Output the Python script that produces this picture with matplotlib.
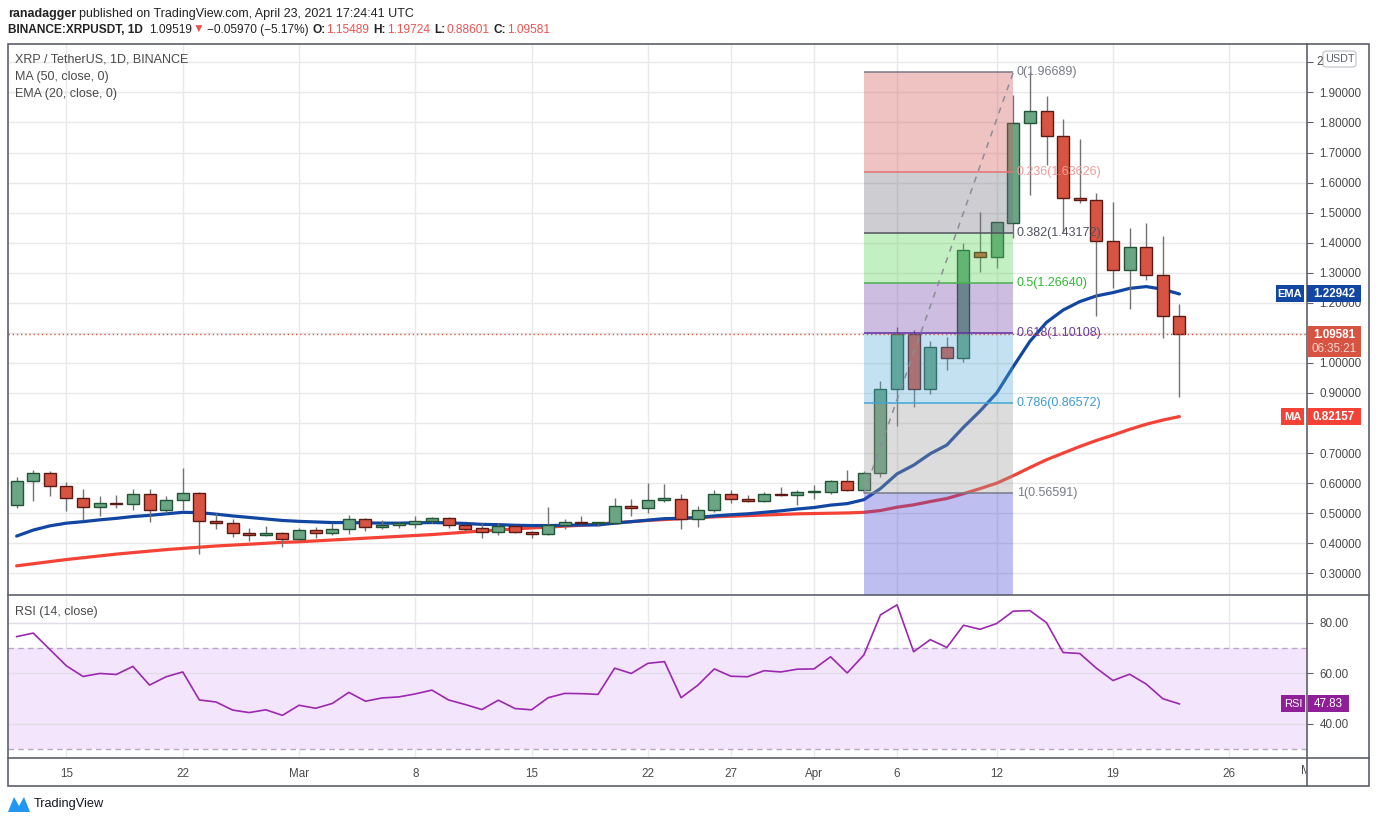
import matplotlib
matplotlib.use("Agg")
import matplotlib.pyplot as plt
from matplotlib.patches import Rectangle, FancyBboxPatch, Polygon
from matplotlib.lines import Line2D
from matplotlib.transforms import Bbox
import numpy as np

plt.rcParams['font.family'] = ['Liberation Sans', 'DejaVu Sans']

# ---------------- data ----------------
opens = [0.527, 0.607, 0.633, 0.590, 0.550, 0.520, 0.535, 0.530, 0.563, 0.510, 0.543, 0.567, 0.473, 0.467, 0.433, 0.427, 0.433,
         0.413, 0.443, 0.433, 0.447, 0.480, 0.453, 0.460, 0.463, 0.473, 0.483, 0.460, 0.450, 0.437, 0.457, 0.438, 0.432, 0.460, 0.471,
         0.467, 0.468, 0.523, 0.517, 0.543, 0.547, 0.480, 0.510, 0.563, 0.547, 0.542, 0.564, 0.560,
         0.569, 0.570, 0.607, 0.577, 0.633, 0.914, 1.096, 0.914, 1.054, 1.015, 1.370, 1.351, 1.467, 1.797, 1.838, 1.756, 1.548,
         1.541, 1.407, 1.308, 1.385, 1.291, 1.15489]
highs = [0.620, 0.644, 0.641, 0.603, 0.581, 0.558, 0.561, 0.581, 0.580, 0.558, 0.651, 0.570, 0.502, 0.480, 0.450, 0.458, 0.439,
         0.450, 0.454, 0.469, 0.494, 0.484, 0.477, 0.471, 0.491, 0.488, 0.488, 0.464, 0.466, 0.466, 0.460, 0.442, 0.521, 0.481, 0.491,
         0.472, 0.550, 0.547, 0.600, 0.598, 0.564, 0.523, 0.577, 0.577, 0.560, 0.570, 0.587, 0.577,
         0.594, 0.610, 0.643, 0.642, 0.940, 1.121, 1.110, 1.073, 1.087, 1.398, 1.503, 1.470, 1.891, 1.967, 1.888, 1.812, 1.745,
         1.565, 1.535, 1.448, 1.466, 1.422, 1.19724]
lows = [0.516, 0.542, 0.559, 0.506, 0.478, 0.492, 0.516, 0.511, 0.470, 0.500, 0.511, 0.363, 0.449, 0.422, 0.409, 0.424, 0.389,
        0.406, 0.419, 0.429, 0.432, 0.442, 0.446, 0.452, 0.452, 0.469, 0.452, 0.439, 0.419, 0.429, 0.433, 0.419, 0.426, 0.449, 0.464,
        0.457, 0.464, 0.492, 0.500, 0.537, 0.449, 0.453, 0.503, 0.533, 0.537, 0.537, 0.556, 0.527,
        0.546, 0.563, 0.573, 0.566, 0.620, 0.791, 0.855, 0.897, 0.977, 1.004, 1.304, 1.315, 1.417, 1.559, 1.660, 1.437, 1.531,
        1.156, 1.248, 1.178, 1.276, 1.084, 0.88601]
closes = [0.607, 0.633, 0.590, 0.550, 0.520, 0.533, 0.531, 0.563, 0.510, 0.543, 0.567, 0.473, 0.467, 0.434, 0.427, 0.433, 0.413,
          0.443, 0.433, 0.447, 0.480, 0.453, 0.460, 0.466, 0.473, 0.483, 0.460, 0.449, 0.437, 0.457, 0.437, 0.432, 0.460, 0.470, 0.467,
          0.469, 0.523, 0.517, 0.543, 0.550, 0.480, 0.510, 0.563, 0.547, 0.542, 0.563, 0.560, 0.570,
          0.570, 0.607, 0.577, 0.633, 0.914, 1.096, 0.914, 1.054, 1.015, 1.375, 1.351, 1.468, 1.797, 1.838, 1.756, 1.548, 1.541,
          1.407, 1.308, 1.385, 1.291, 1.155, 1.09581]
ema20 = [0.424, 0.444, 0.458, 0.467, 0.472, 0.478, 0.483, 0.489, 0.493, 0.498, 0.503, 0.502, 0.497, 0.491, 0.486, 0.481, 0.476,
         0.473, 0.471, 0.469, 0.469, 0.468, 0.467, 0.467, 0.468, 0.469, 0.468, 0.466, 0.463, 0.462, 0.460, 0.459, 0.459, 0.460, 0.461,
         0.461, 0.467, 0.472, 0.477, 0.482, 0.483, 0.486, 0.491, 0.495, 0.498, 0.503, 0.508, 0.514,
         0.519, 0.527, 0.532, 0.545, 0.582, 0.631, 0.660, 0.698, 0.727, 0.786, 0.840, 0.900, 0.988, 1.072, 1.135, 1.176, 1.204,
         1.223, 1.234, 1.248, 1.254, 1.245, 1.22942]
ma50 = [0.325, 0.332, 0.339, 0.346, 0.352, 0.358, 0.364, 0.369, 0.374, 0.379, 0.383, 0.387, 0.391, 0.394, 0.397, 0.400, 0.403,
        0.405, 0.408, 0.411, 0.414, 0.417, 0.420, 0.423, 0.426, 0.429, 0.433, 0.437, 0.441, 0.444, 0.448, 0.451, 0.454, 0.457, 0.460,
        0.464, 0.468, 0.472, 0.476, 0.479, 0.482, 0.485, 0.488, 0.490, 0.492, 0.494, 0.496, 0.498,
        0.499, 0.500, 0.501, 0.503, 0.509, 0.520, 0.528, 0.539, 0.549, 0.565, 0.582, 0.600, 0.625, 0.652, 0.678, 0.700, 0.722,
        0.742, 0.760, 0.779, 0.796, 0.810, 0.82157]
rsi = [74.5, 75.9, 69.4, 62.9, 58.7, 59.9, 59.5, 62.7, 55.3, 58.6, 60.5, 49.4, 48.6, 45.4, 44.4, 45.5, 43.3,
       47.3, 46.1, 48.0, 52.4, 48.9, 50.2, 50.6, 51.8, 53.3, 49.4, 47.6, 45.6, 49.3, 46.0, 45.5, 50.3, 52.0, 51.9,
       51.6, 62.0, 59.9, 63.9, 64.6, 50.3, 55.2, 61.7, 58.8, 58.6, 61.0, 60.5, 61.6,
       61.7, 66.5, 60.1, 67.2, 83.1, 87.1, 68.5, 73.3, 70.2, 79.0, 77.4, 79.7, 84.6, 84.8, 80.0, 68.2, 67.8,
       62.0, 57.1, 59.6, 55.7, 49.9, 47.83]

tick_idx = [3, 10, 17, 24, 31, 38, 43, 48, 53, 59, 66, 73]
tick_labels = ["15", "22", "Mar", "8", "15", "22", "27", "Apr", "6", "12", "19", "26"]
price_ticks = [0.3, 0.4, 0.5, 0.6, 0.7, 0.8, 0.9, 1.0, 1.1, 1.2, 1.3, 1.4, 1.5, 1.6, 1.7, 1.8, 1.9, 2.0]
hidden_price_labels = [0.8, 1.1, 2.0]   # covered by the axis tags in the reference
rsi_ticks = [40, 60, 80]

fib_ratios = ["0", "0.236", "0.382", "0.5", "0.618", "0.786", "1"]
fib_prices = [1.96689, 1.63626, 1.43172, 1.26640, 1.10108, 0.86572, 0.56591]
fib_start, fib_end = 51, 60   # Apr 4 -> Apr 13

last_close = 1.09581
ema_last = 1.22942
ma_last = 0.82157
rsi_last = 47.83

# ---------------- layout ----------------
W, H = 1376, 823
fig = plt.figure(figsize=(W / 100, H / 100), dpi=100)
fig.patch.set_facecolor('white')


def add_ax(x0, y0, x1, y1):
    return fig.add_axes([x0 / W, 1 - y1 / H, (x1 - x0) / W, (y1 - y0) / H])


ax = add_ax(8, 44, 1307, 595)
axr = add_ax(8, 597, 1307, 758)

n = len(closes)
x = np.arange(n)
XL = (-0.52, 77.68)

AXC = '#5d606b'
GRID = '#e9e9ea'
TXT = '#4a4a4a'

for a in (ax, axr):
    a.set_xlim(*XL)
    for s in a.spines.values():
        s.set_visible(False)
    a.set_xticks(tick_idx)
    for t in tick_idx:
        a.axvline(t, color=GRID, lw=1, zorder=0)
    a.yaxis.tick_right()
    a.tick_params(axis='y', length=4, width=0.8, color=AXC, labelsize=8.4, labelcolor=TXT, pad=5)

ax.set_ylim(0.228, 2.061)
ax.set_yticks(price_ticks)
ax.set_yticklabels(["" if p in hidden_price_labels else f"{p:.5f}" for p in price_ticks])
ax.tick_params(axis='x', length=0, labelbottom=False)
for p in price_ticks:
    ax.axhline(p, color=GRID, lw=1, zorder=0)

# indicators
ax.plot(x, ma50, color='#f44336', lw=2.3, zorder=2, solid_capstyle='round')
ax.plot(x, ema20, color='#1147a2', lw=2.3, zorder=2, solid_capstyle='round')

# candles
o = np.array(opens); c = np.array(closes); hi = np.array(highs); lo = np.array(lows)
up = c >= o
ax.vlines(x, lo, hi, color='#737375', lw=1.0, zorder=3)
body_lo = np.minimum(o, c)
body_h = np.maximum(np.abs(c - o), 0.004)
ax.bar(x[up], body_h[up], bottom=body_lo[up], width=0.72, color='#6ba583', edgecolor='#225437', lw=1.0, zorder=4)
ax.bar(x[~up], body_h[~up], bottom=body_lo[~up], width=0.72, color='#d75442', edgecolor='#5b1a13', lw=1.0, zorder=4)

# fib retracement
zone_cols = ['#d45454', '#70707e', '#54d454', '#7045a9', '#54a9d4', '#9b9b9b', '#4545d4']
line_cols = ['#787b86', '#e57373', '#50535e', '#4caf50', '#5e2ca5', '#42a5d5', '#787b86']
lab_cols = ['#787b86', '#f09a9a', '#50535e', '#2eb82e', '#6b3fa0', '#3d9ad1', '#787b86']
levels = fib_prices + [ax.get_ylim()[0]]
for i in range(len(fib_prices)):
    ax.fill_between([fib_start, fib_end], levels[i + 1], levels[i], color=zone_cols[i], alpha=0.35, lw=0, zorder=5)
for i, p in enumerate(fib_prices):
    ax.hlines(p, fib_start, fib_end, color=line_cols[i], lw=1.1, zorder=6)
    ax.text(fib_end + 0.22, p, f"{fib_ratios[i]}({p:.5f})", color=lab_cols[i], fontsize=9,
            va='center', ha='left', zorder=7)
ax.plot([fib_start, fib_end], [fib_prices[-1], fib_prices[0]], color='#8a8d96', lw=1.1,
        linestyle=(0, (4, 4)), zorder=6)

# last price dotted line
ax.axhline(last_close, color='#d75442', lw=1.0, linestyle=(0, (1, 2)), zorder=6)

# legend text in pane
ax.text(7 / 1299, 1 - 16 / 551, "XRP / TetherUS, 1D, BINANCE", transform=ax.transAxes, fontsize=9, color=TXT, va='center')
ax.text(7 / 1299, 1 - 33 / 551, "MA (50, close, 0)", transform=ax.transAxes, fontsize=9, color=TXT, va='center')
ax.text(7 / 1299, 1 - 50 / 551, "EMA (20, close, 0)", transform=ax.transAxes, fontsize=9, color=TXT, va='center')

# ---------------- RSI pane ----------------
axr.set_ylim(26.4, 90.2)
axr.set_yticks(rsi_ticks)
axr.set_yticklabels([f"{v:.2f}" for v in rsi_ticks])
axr.axhspan(30, 70, color='#f3e6fc', lw=0, zorder=0)
for v in rsi_ticks:
    axr.axhline(v, color='#e2dbe8', lw=1, zorder=1)
for v in (30, 70):
    axr.axhline(v, color='#b8a6c4', lw=1, linestyle=(0, (4, 3)), zorder=1)
axr.plot(x, rsi, color='#9c27b0', lw=1.2, zorder=3)
axr.set_xticklabels(tick_labels)
axr.tick_params(axis='x', length=0, labelsize=8.4, labelcolor=TXT, pad=7)
axr.text(7 / 1299, 1 - 15 / 161, "RSI (14, close)", transform=axr.transAxes, fontsize=9, color=TXT, va='center')

# clipped "May" label at the right end of the time axis
tm = fig.text(1312 / W, 1 - 771 / H, "May", fontsize=8.4, color=TXT, ha='center', va='center')
tm.set_clip_box(Bbox.from_extents(0, 0, 1306, H))
tm.set_clip_on(True)

# ---------------- frames ----------------
fig.add_artist(Rectangle((8 / W, 1 - 786 / H), (1369 - 8) / W, (786 - 44) / H, transform=fig.transFigure,
                         fill=False, edgecolor=AXC, lw=1.2, zorder=10))
fig.add_artist(Line2D([1307 / W, 1307 / W], [1 - 786 / H, 1 - 44 / H], transform=fig.transFigure, color=AXC, lw=1.2))
fig.add_artist(Line2D([8 / W, 1369 / W], [1 - 595 / H, 1 - 595 / H], transform=fig.transFigure, color=AXC, lw=1.2))
fig.add_artist(Line2D([8 / W, 1369 / W], [1 - 758 / H, 1 - 758 / H], transform=fig.transFigure, color=AXC, lw=1.2))


def img_y(a, v):
    return H - a.transData.transform((0, v))[1]


def box(x0, y0, x1, y1, color, rounded=False, edge=None):
    if rounded:
        p = FancyBboxPatch((x0 / W, 1 - y1 / H), (x1 - x0) / W, (y1 - y0) / H, boxstyle="round,pad=0,rounding_size=0.003",
                           transform=fig.transFigure, facecolor=color, edgecolor=edge or color, lw=1, zorder=20)
    else:
        p = Rectangle((x0 / W, 1 - y1 / H), (x1 - x0) / W, (y1 - y0) / H, transform=fig.transFigure,
                      facecolor=color, edgecolor='none', zorder=20)
    fig.add_artist(p)


def ftext(px, py, s, **kw):
    kw.setdefault('zorder', 21)
    return fig.text(px / W, 1 - py / H, s, **kw)


# EMA tag
y = img_y(ax, ema_last)
box(1276, y - 8.5, 1304, y + 8.5, '#1147a2')
box(1307, y - 8.5, 1361, y + 8.5, '#1147a2')
ftext(1290, y, "EMA", color='white', fontsize=8, fontweight='bold', ha='center', va='center')
ftext(1334, y, f"{ema_last:.5f}", color='white', fontsize=8.4, fontweight='bold', ha='center', va='center')

# MA tag
y = img_y(ax, ma_last)
box(1281, y - 8.5, 1304, y + 8.5, '#f44336')
box(1307, y - 8.5, 1361, y + 8.5, '#f44336')
ftext(1292.5, y, "MA", color='white', fontsize=8, fontweight='bold', ha='center', va='center')
ftext(1334, y, f"{ma_last:.5f}", color='white', fontsize=8.4, fontweight='bold', ha='center', va='center')

# last price tag
y = img_y(ax, last_close)
box(1307, y - 8.5, 1361, y + 23, '#d75442')
ftext(1334, y + 1, f"{last_close:.5f}", color='white', fontsize=8.4, fontweight='bold', ha='center', va='center')
ftext(1334, y + 15, "06:35:21", color='#f6d5cf', fontsize=8.4, ha='center', va='center')

# RSI tag
y = img_y(axr, rsi_last)
box(1281, y - 8.5, 1305, y + 8.5, '#8e1f96')
box(1308, y - 8.5, 1349, y + 8.5, '#8e1f96')
ftext(1293, y, "RSI", color='white', fontsize=8, ha='center', va='center')
ftext(1328.5, y, f"{rsi_last:.2f}", color='white', fontsize=8.4, ha='center', va='center')

# USDT box, with the leading "2" of the 2.00000 label peeking out
y2 = img_y(ax, 2.0)
ftext(1316, y2, "2", color=TXT, fontsize=8.4, ha='left', va='center')
box(1323, 51, 1356, 67, 'white', rounded=True, edge='#c9cbd1')
ftext(1339.5, 59, "USDT", color='#5d606b', fontsize=7.8, ha='center', va='center')

# ---------------- header ----------------
fig.canvas.draw()
renderer = fig.canvas.get_renderer()


def seq(px, py, parts, size):
    for s, col, wt, gap in parts:
        t = fig.text(px / W, 1 - py / H, s, color=col, fontsize=size, fontweight=wt, ha='left', va='center')
        bb = t.get_window_extent(renderer=renderer)
        px = bb.x1 + gap


DARK = '#222222'
RED = '#ef5350'
seq(8, 14, [("ranadagger", DARK, 'bold', 3),
            ("published on TradingView.com, April 23, 2021 17:24:41 UTC", DARK, 'normal', 0)], 9.0)
seq(8, 30, [("BINANCE:XRPUSDT, 1D", DARK, 'bold', 6),
            ("1.09519", DARK, 'normal', 1),
            ("▼", RED, 'normal', 2),
            ("\u22120.05970 (\u22125.17%)", DARK, 'normal', 4),
            ("O:", DARK, 'bold', 1), ("1.15489", RED, 'normal', 4),
            ("H:", DARK, 'bold', 1), ("1.19724", RED, 'normal', 4),
            ("L:", DARK, 'bold', 1), ("0.88601", RED, 'normal', 4),
            ("C:", DARK, 'bold', 1), ("1.09581", RED, 'normal', 0)], 8.6)

# TradingView logo
fig.add_artist(Polygon([(8 / W, 1 - 812 / H), (14 / W, 1 - 797 / H), (19 / W, 1 - 806 / H), (24 / W, 1 - 797 / H),
                        (30 / W, 1 - 812 / H)], closed=True, transform=fig.transFigure, facecolor='#2196f3',
                       edgecolor='none'))
fig.text(34 / W, 1 - 804 / H, "TradingView", fontsize=9.2, color='#131722', ha='left', va='center')

fig.savefig("out.png", dpi=100, facecolor='white')
